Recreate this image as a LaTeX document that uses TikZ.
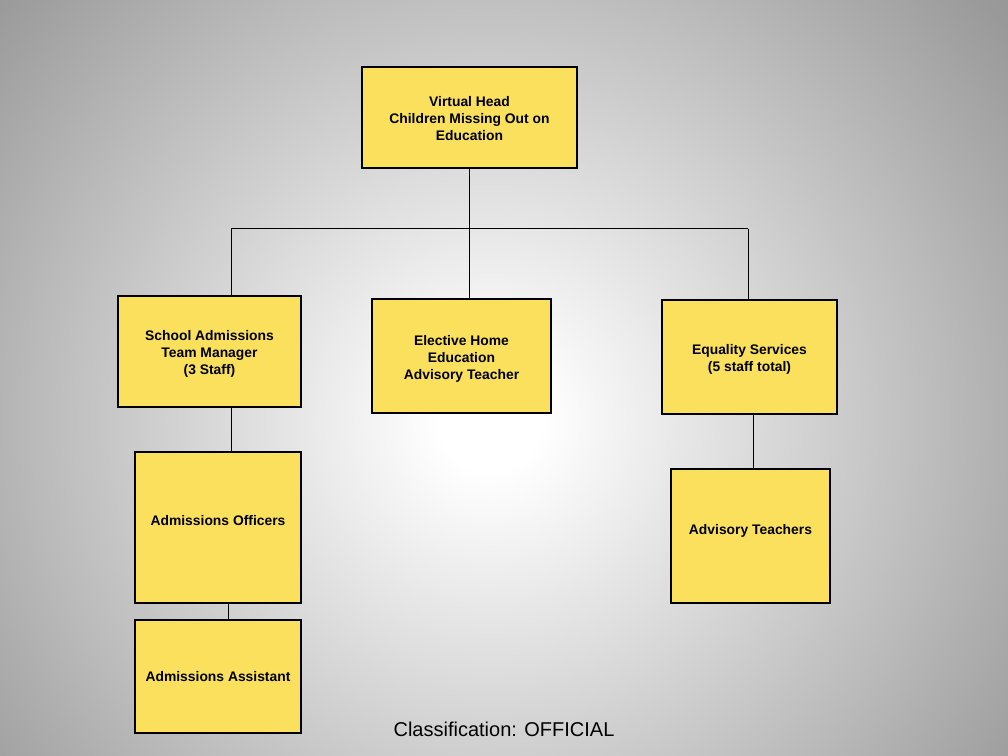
\documentclass[tikz,border=0pt]{standalone}
\usepackage{fontspec}
\setmainfont{Liberation Sans}
\definecolor{boxyellow}{RGB}{250,224,92}
\definecolor{bggray}{RGB}{153,153,153}
\definecolor{bggrayb}{RGB}{145,145,145}
\pgfdeclareradialshading{bgshade}{\pgfpoint{0bp}{0bp}}{color(0bp)=(white); color(38bp)=(white); color(486bp)=(bggray); color(560bp)=(bggrayb)}
\begin{document}
\begin{tikzpicture}[x=0.75pt,y=-0.75pt,
  box/.style={draw=black, line width=1.9pt, fill=boxyellow, align=center, inner sep=0pt,
    font=\fontsize{10.4pt}{12.75pt}\selectfont\bfseries},
  link/.style={draw=black, line width=0.75pt}]
\useasboundingbox (0,0) rectangle (1008,756);
\coordinate (bgc) at (490,420);
\begin{scope}
\clip (0,0) rectangle (1008,756);
\pgftext[at=\pgfpointanchor{bgc}{center}]{\pgfuseshading{bgshade}}
\end{scope}
\node[box, minimum width=161.25pt, minimum height=75.75pt] (top) at (469.5,117.5) {\rule{0pt}{9pt}Virtual Head\\Children Missing Out on\\Education};
\node[box, minimum width=137.25pt, minimum height=83.25pt] (sam) at (209.5,351.5) {\rule{0pt}{11.3pt}School Admissions\\Team Manager\\(3 Staff)};
\node[box, minimum width=134.25pt, minimum height=85.5pt] (ehe) at (461.5,356) {\rule{0pt}{11.5pt}Elective Home\\Education\\Advisory Teacher};
\node[box, minimum width=131.25pt, minimum height=85.5pt] (eq) at (749.5,357) {\rule{0pt}{11.3pt}Equality Services\\(5 staff total)};
\node[box, minimum width=124.5pt, minimum height=113.25pt] (ao) at (218,527.5) {\rule[-10.8pt]{0pt}{10.8pt}Admissions Officers};
\node[box, minimum width=119.25pt, minimum height=100.5pt] (at) at (750.5,536) {\rule[-9.4pt]{0pt}{9.4pt}Advisory Teachers};
\node[box, minimum width=124.5pt, minimum height=84.75pt] (aa) at (218,676.5) {Admissions Assistant};
\node[font=\fontsize{15pt}{18pt}\selectfont] (cls) at (504,729) {Classification: OFFICIAL};
\coordinate (jL) at (231,229);
\coordinate (jR) at (748,229);
\coordinate (cA) at (231,0);
\coordinate (cB) at (228,0);
\coordinate (cC) at (753,0);
\draw[link] (top.south) -- (top.south |- ehe.north);
\draw[link] (jL) -- (jR);
\draw[link] (jL) -- (jL |- sam.north);
\draw[link] (jR) -- (jR |- eq.north);
\draw[link] (cA |- sam.south) -- (cA |- ao.north);
\draw[link] (cB |- ao.south) -- (cB |- aa.north);
\draw[link] (cC |- eq.south) -- (cC |- at.north);
\end{tikzpicture}
\end{document}
